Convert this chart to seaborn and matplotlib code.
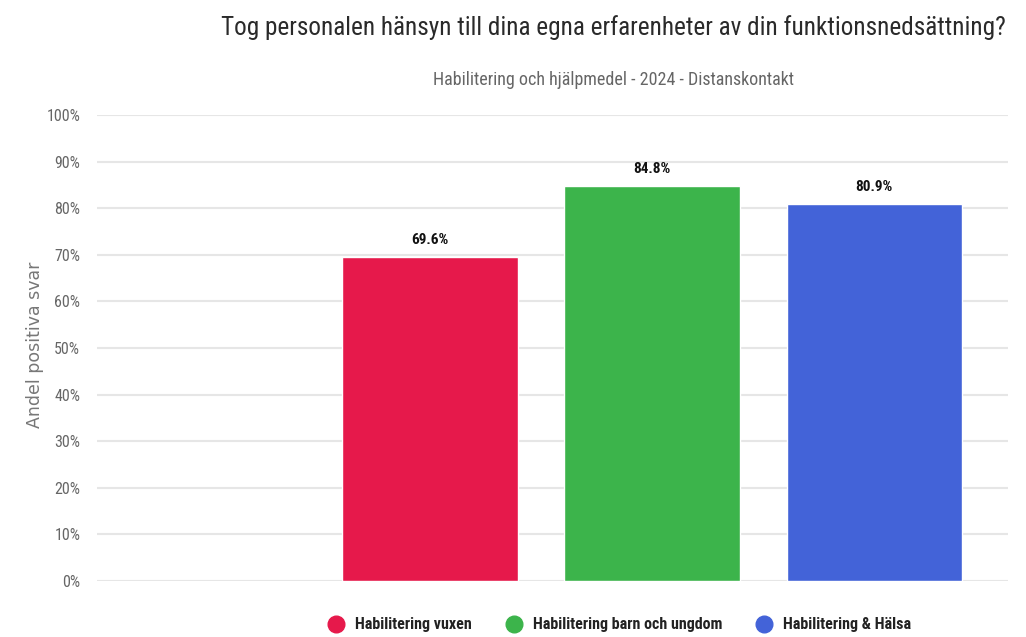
import matplotlib
matplotlib.use("Agg")
import matplotlib.pyplot as plt
from matplotlib.lines import Line2D
import pandas as pd
import seaborn as sns

# data
slots = ["", "Habilitering vuxen", "Habilitering barn och ungdom", "Habilitering & Hälsa"]
units = ["Habilitering vuxen", "Habilitering barn och ungdom", "Habilitering & Hälsa"]
values = [69.6, 84.8, 80.9]
colors = ["#e6194b", "#3cb44b", "#4363d8"]
yticks = [0, 10, 20, 30, 40, 50, 60, 70, 80, 90, 100]

title = "Tog personalen hänsyn till dina egna erfarenheter av din funktionsnedsättning?"
subtitle = "Habilitering och hjälpmedel - 2024 - Distanskontakt"
ylabel = "Andel positiva svar"

sns.set_theme(style="white")
narrow = ["Roboto Condensed", "Archivo Narrow", "DejaVu Sans"]
plt.rcParams["font.family"] = narrow

df = pd.DataFrame({"unit": units, "value": values})

fig = plt.figure(figsize=(10.26, 6.37), dpi=100)
ax = fig.add_axes([0.0945, 0.088, 0.8875, 0.7315])

sns.barplot(data=df, x="unit", y="value", hue="unit", order=slots,
            palette=colors, saturation=1, width=0.79, legend=False, ax=ax, zorder=3)

ax.set_ylim(0, 100)
ax.set_xlim(-0.5, 3.6)
ax.set_yticks(yticks)
ax.set_yticklabels([f"{t}%" for t in yticks], color="#666666", fontsize=11.5)
ax.tick_params(axis="y", length=0, pad=12)
ax.set_xticks([])
ax.set_xlabel("")
ax.set_ylabel("")
ax.grid(axis="y", color="#e6e6e6", linewidth=1.5, zorder=0)
for s in ax.spines.values():
    s.set_visible(False)

for c in ax.containers:
    ax.bar_label(c, labels=[f"{v:.1f}%" for v in c.datavalues], padding=7,
                 fontsize=11, fontweight="bold", color="#111111")

fig.text(0.598, 0.956, title, ha="center", va="center", fontsize=18.2, color="#2a2a2a")
fig.text(0.598, 0.874, subtitle, ha="center", va="center", fontsize=13, color="#666666")
fig.text(0.034, 0.458, ylabel, ha="center", va="center", rotation=90,
         fontsize=12.5, color="#777777", family=["DejaVu Sans"])

handles = [Line2D([], [], marker="o", linestyle="", markersize=12,
                  markerfacecolor=c, markeredgecolor=c) for c in colors]
leg = fig.legend(handles, units, loc="center", bbox_to_anchor=(0.6, 0.019), ncol=3,
                 frameon=False, handletextpad=0.2, columnspacing=1.6,
                 prop={"size": 11.5, "weight": "bold"})
for t in leg.get_texts():
    t.set_color("#222222")

fig.savefig("out.png", dpi=100)
